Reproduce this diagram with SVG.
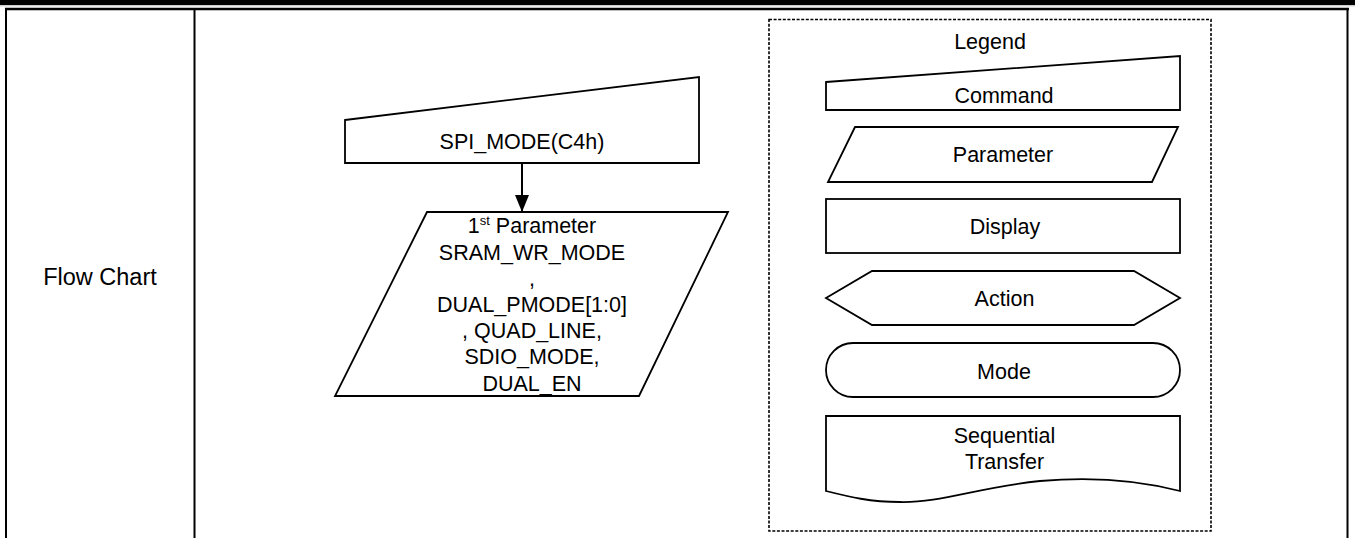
<svg xmlns="http://www.w3.org/2000/svg" width="1355" height="538" viewBox="0 0 1355 538">
<style>
.s{fill:#fff;stroke:#000;stroke-width:1.8;stroke-linejoin:miter}
.t{font-family:"Liberation Sans",Arial,sans-serif;font-size:21.5px;fill:#000;text-anchor:middle}
.b{stroke:#000;fill:none}
</style>
<defs>
<marker id="ah" markerWidth="17" markerHeight="14" refX="17" refY="7" orient="auto" markerUnits="userSpaceOnUse" viewBox="0 0 17 14">
<path d="M0,0 L17,7 L0,14 Z" fill="#000"/>
</marker>
</defs>
<rect width="1355" height="538" fill="#fff"/>
<g id="frame">
<rect x="0" y="0" width="1355" height="5" fill="#000"/>
<line x1="0" y1="5.8" x2="1355" y2="5.8" stroke="#bbb" stroke-width="1"/>
<line class="b" x1="5" y1="9" x2="1349" y2="9" stroke-width="2.5"/>
<line class="b" x1="6" y1="8" x2="6" y2="538" stroke-width="2"/>
<line class="b" x1="194.5" y1="8" x2="194.5" y2="538" stroke-width="2"/>
<line class="b" x1="1347.5" y1="8" x2="1347.5" y2="538" stroke-width="2"/>
<text class="t" x="100" y="285" style="font-size:23.5px">Flow Chart</text>
</g>
<g id="cmd">
<path class="s" d="M345,120 L699,77 L699,163 L345,163 Z"/>
<text class="t" x="522" y="149.3">SPI_MODE(C4h)</text>
</g>
<g id="param">
<path class="s" d="M427,212 L728,212 L639,396 L335,396 Z"/>
<text class="t" x="532"><tspan x="532" y="233.3">1<tspan style="font-size:13px" dy="-8">st</tspan><tspan dy="8"> Parameter</tspan></tspan><tspan x="532" y="259.5">SRAM_WR_MODE</tspan><tspan x="532" y="285.7">,</tspan><tspan x="532" y="311.9">DUAL_PMODE[1:0]</tspan><tspan x="532" y="338.1">, QUAD_LINE,</tspan><tspan x="532" y="364.3">SDIO_MODE,</tspan><tspan x="532" y="390.5">DUAL_EN</tspan></text>
</g>
<g id="connectors">
<line x1="522" y1="163" x2="522" y2="212" stroke="#000" stroke-width="2" marker-end="url(#ah)"/>
</g>
<g id="legend">
<rect x="769" y="19.5" width="442" height="511.5" fill="none" stroke="#000" stroke-width="1.6" stroke-dasharray="3,1.6"/>
<text class="t" x="990" y="49">Legend</text>
</g>
<g id="lg-command">
<path class="s" d="M826,82 L1180,56 L1180,110 L826,110 Z"/>
<text class="t" x="1004" y="103">Command</text>
</g>
<g id="lg-parameter">
<path class="s" d="M855,127 L1178,127 L1152,182 L828,182 Z"/>
<text class="t" x="1003" y="162">Parameter</text>
</g>
<g id="lg-display">
<rect class="s" x="826" y="199" width="354" height="54"/>
<text class="t" x="1005" y="234">Display</text>
</g>
<g id="lg-action">
<path class="s" d="M826,298 L872,271 L1134,271 L1180,298 L1134,325 L872,325 Z"/>
<text class="t" x="1004.5" y="306">Action</text>
</g>
<g id="lg-mode">
<rect class="s" x="826" y="343" width="354" height="54" rx="27" ry="27"/>
<text class="t" x="1004" y="379">Mode</text>
</g>
<g id="lg-seq">
<path class="s" d="M826,416 L1180,416 L1180,491 C1130,478 1085,477 1040,481 C980,487 940,503 900,502 C870,502 850,497 826,491 Z"/>
<text class="t" x="1004.5" y="443.3">Sequential</text>
<text class="t" x="1004.5" y="469.3">Transfer</text>
</g>
</svg>
